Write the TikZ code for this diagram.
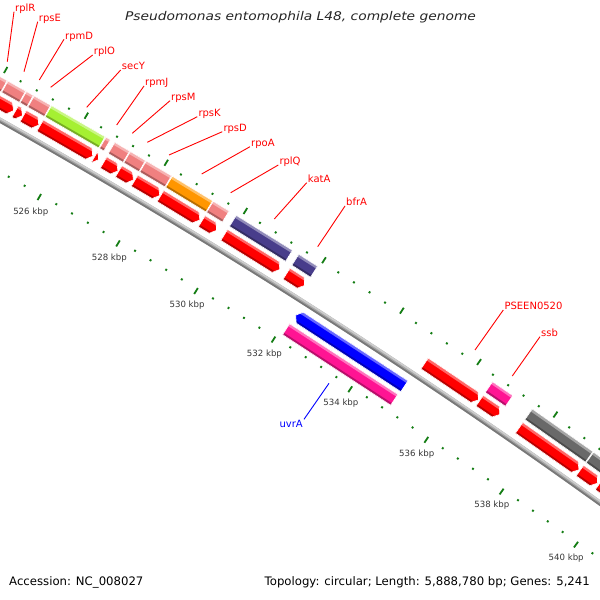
\documentclass[tikz,border=0pt]{standalone}
\usepackage{fontspec}
\setmainfont{DejaVu Sans}
\definecolor{salmon}{RGB}{240,128,128}
\definecolor{cogGreen}{RGB}{165,240,50}
\definecolor{cogOrange}{RGB}{255,150,0}
\definecolor{cogPurple}{RGB}{72,61,139}
\definecolor{cogPink}{RGB}{255,20,147}
\definecolor{cogGray}{RGB}{105,105,105}
\definecolor{geneRed}{RGB}{255,0,0}
\definecolor{geneBlue}{RGB}{0,0,255}
\definecolor{tickGreen}{RGB}{20,125,20}
\definecolor{tickText}{RGB}{55,55,55}
\definecolor{bbTop}{RGB}{205,205,205}
\definecolor{bbMid}{RGB}{165,165,165}
\definecolor{bbBot}{RGB}{120,120,120}
% #1 type (0 box, 1 forward arrow, 2 reverse arrow), #2 start kbp, #3 end kbp, #4 r in, #5 r out, #6 colour
\newcommand\feat[6]{%
  \pgfmathsetmacro\aS{ka(#2)}%
  \pgfmathsetmacro\aE{ka(#3)}%
  \pgfmathsetmacro\rI{6400+#4}%
  \pgfmathsetmacro\rO{6400+#5}%
  \pgfmathsetmacro\rM{6400+(#4+#5)/2}%
  \pgfmathsetmacro\rHL{6400+#5-0.21*(#5-#4)}%
  \pgfmathsetmacro\rSH{6400+#4+0.18*(#5-#4)}%
  \pgfmathsetmacro\aSx{\aS+0.05}%
  \pgfmathsetmacro\aEx{\aE-0.05}%
  \ifcase#1\relax
    \def\fshape{(\aS:\rO) -- (\aE:\rO) -- (\aE:\rI) -- (\aS:\rI) -- cycle}%
  \or
    \pgfmathsetmacro\aH{min(\aE+0.044,\aS)}%
    \def\fshape{(\aS:\rO) -- (\aH:\rO) -- (\aE:\rM) -- (\aH:\rI) -- (\aS:\rI) -- cycle}%
  \or
    \pgfmathsetmacro\aH{max(\aS-0.044,\aE)}%
    \def\fshape{(\aS:\rM) -- (\aH:\rO) -- (\aE:\rO) -- (\aE:\rI) -- (\aH:\rI) -- cycle}%
  \fi
  \begin{scope}
    \clip \fshape;
    \fill[#6] \fshape;
    \fill[#6!60!white] (\aSx:\rO) -- (\aEx:\rO) -- (\aEx:\rHL) -- (\aSx:\rHL) -- cycle;
    \fill[#6!72!black] (\aSx:\rSH) -- (\aEx:\rSH) -- (\aEx:\rI) -- (\aSx:\rI) -- cycle;
  \end{scope}
  \draw[white, line width=0.6] \fshape;
}
\begin{document}
\begin{tikzpicture}[x=1pt,y=1pt,
  declare function={ka(\q)=57.5-(\q-532)*0.40915;},
  tickmaj/.style={draw=tickGreen, line width=1.8},
  tickmin/.style={draw=tickGreen, line width=1.9},
  ticklab/.style={font=\fontsize{8.6}{10}\selectfont, text=tickText, inner sep=0},
  flabel/.style={font=\fontsize{10}{12}\selectfont, text=geneRed, inner sep=1pt, anchor=base west},
  fline/.style={draw=geneRed, line width=0.9},
]
\useasboundingbox (0,0) rectangle (600,600);
\fill[white] (0,0) rectangle (600,600);
\begin{scope}
\clip (0,0) rectangle (600,600);
\begin{scope}[shift={(-3165,-5137)}]
  % rulers
  \foreach \j in {0,...,52} {
    \pgfmathsetmacro\kk{520+0.4*\j}
    \pgfmathsetmacro\aa{ka(\kk)}
    \pgfmathtruncatemacro\mj{mod(\j,5)}
    \ifnum\mj=0
      \draw[tickmaj] (\aa:6396.5) -- (\aa:6403.5);
      \draw[tickmaj] (\aa:6490.5) -- (\aa:6497.5);
    \else
      \draw[tickmin] (\aa:6401.5) -- (\aa:6403.5);
      \draw[tickmin] (\aa:6490.5) -- (\aa:6492.5);
    \fi
  }
  \foreach \k in {526,528,...,540} {
    \node[ticklab] (kbp\k) at ({ka(\k)}:6383) {\k\ kbp};
  }
  % backbone
  \pgfmathsetmacro\aA{ka(520)}
  \pgfmathsetmacro\aB{ka(543)}
  \draw[bbMid, line width=5] (\aA:6447.5) arc[start angle=\aA, end angle=\aB, radius=6447.5pt];
  \draw[bbTop, line width=1.7] (\aA:6449.1) arc[start angle=\aA, end angle=\aB, radius=6449.1pt];
  \draw[bbBot, line width=1.7] (\aA:6445.9) arc[start angle=\aA, end angle=\aB, radius=6445.9pt];
  % COG track, forward strand
  \feat{0}{523.30}{524.14}{72.5}{85.5}{salmon}
  \feat{0}{524.16}{524.60}{72.5}{85.5}{salmon}
  \feat{0}{524.62}{524.79}{72.5}{85.5}{salmon}
  \feat{0}{524.81}{525.22}{72.5}{85.5}{salmon}
  \feat{0}{525.24}{526.58}{72.5}{85.5}{cogGreen}
  \feat{0}{526.60}{526.71}{72.5}{85.5}{salmon}
  \feat{0}{526.82}{527.19}{72.5}{85.5}{salmon}
  \feat{0}{527.21}{527.59}{72.5}{85.5}{salmon}
  \feat{0}{527.61}{528.24}{72.5}{85.5}{salmon}
  \feat{0}{528.26}{529.28}{72.5}{85.5}{cogOrange}
  \feat{0}{529.30}{529.70}{72.5}{85.5}{salmon}
  \feat{0}{529.88}{531.31}{72.5}{85.5}{cogPurple}
  \feat{0}{531.47}{531.95}{72.5}{85.5}{cogPurple}
  \feat{0}{536.48}{537.01}{72.5}{85.5}{cogPink}
  \feat{0}{537.52}{539.12}{72.5}{85.5}{cogGray}
  \feat{0}{539.14}{541.50}{72.5}{85.5}{cogGray}
  % genes, forward strand
  \feat{1}{523.00}{524.13}{56}{69}{geneRed}
  \feat{1}{524.16}{524.58}{56}{69}{geneRed}
  \feat{1}{524.62}{524.80}{56}{69}{geneRed}
  \feat{1}{524.82}{525.21}{56}{69}{geneRed}
  \feat{1}{525.24}{526.56}{56}{69}{geneRed}
  \feat{1}{526.60}{526.71}{56}{69}{geneRed}
  \feat{1}{526.83}{527.19}{56}{69}{geneRed}
  \feat{1}{527.21}{527.58}{56}{69}{geneRed}
  \feat{1}{527.61}{528.24}{56}{69}{geneRed}
  \feat{1}{528.26}{529.26}{56}{69}{geneRed}
  \feat{1}{529.31}{529.69}{56}{69}{geneRed}
  \feat{1}{529.88}{531.30}{56}{69}{geneRed}
  \feat{1}{531.47}{531.94}{56}{69}{geneRed}
  \feat{1}{535.04}{536.45}{56}{69}{geneRed}
  \feat{1}{536.48}{537.01}{56}{69}{geneRed}
  \feat{1}{537.52}{539.10}{56}{69}{geneRed}
  \feat{1}{539.13}{539.60}{56}{69}{geneRed}
  \feat{1}{539.64}{541.50}{56}{69}{geneRed}
  % reverse strand
  \feat{2}{532.12}{534.95}{26}{39}{geneBlue}
  \feat{0}{532.11}{534.93}{9}{22}{cogPink}
\end{scope}
% feature labels
\foreach \nm/\ix/\iy/\ox/\oy in {
  rplR/7.3/538.3/14/588.3, rpsE/24/528.3/37.7/578.3, rpmD/39.3/520/64/560.7,
  rplO/50.7/512.7/92.7/545, secY/86.7/492.7/120.7/530, rpmJ/116.7/475/144/514,
  rpsM/132.3/466.7/170/499.3, rpsK/147.3/457.7/197.3/483.3, rpsD/169/445/222.3/468.3,
  rpoA/201.7/426/250/453.3, rplQ/230.7/407.3/278.3/435, katA/274.3/381/306.7/417.3,
  bfrA/317.7/353.3/345/394, PSEEN0520/475/250/503.3/290, ssb/512.3/224/540/263.3} {
  \coordinate (i\nm) at (\ix,\iy);
  \node[flabel] (l\nm) at (\ox,\oy) {\nm};
  \draw[fline] (i\nm) -- (l\nm.base west);
}
\coordinate (iuvrA) at (329,216.7);
\node[flabel, text=geneBlue, anchor=north east] (luvrA) at (304,180.7) {uvrA};
\draw[draw=geneBlue, line width=0.9] (iuvrA) -- (luvrA.north east);
\end{scope}
% title and footer
\node[font=\fontsize{12}{14}\selectfont\itshape, text=black!85, anchor=base, inner sep=0] (title) at (300.5,579.8) {\scalebox{1.15}[1]{Pseudomonas entomophila L48, complete genome}};
\node[font=\fontsize{11.7}{14}\selectfont, anchor=base west, inner sep=0] (acc) at (9,14) {Accession: NC\_008027};
\node[font=\fontsize{11.7}{14}\selectfont, anchor=base east, inner sep=0] (topo) at (590,14) {Topology: circular; Length: 5,888,780 bp; Genes: 5,241};
\end{tikzpicture}
\end{document}
